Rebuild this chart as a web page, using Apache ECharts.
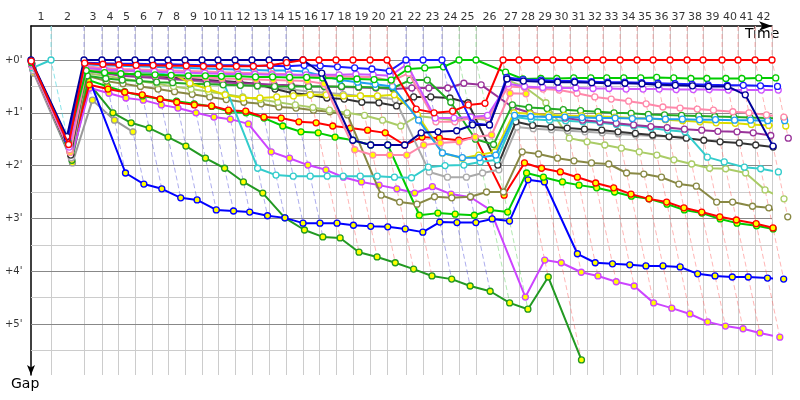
<!DOCTYPE html>
<html><head><meta charset="utf-8">
<script src="https://cdn.jsdelivr.net/npm/echarts@6/dist/echarts.min.js"></script>
<style>html,body{margin:0;padding:0;background:#fff}#c{width:800px;height:400px}</style>
</head><body><div id="c"></div>
<script>
// ---- data ----
const lapLabels = ['1','2','3','4','5','6','7','8','9','10','11','12','13','14','15','16','17','18','19','20','21','22','23','24','25','26','27','28','29','30','31','32','33','34','35','36','37','38','39','40','41','42'];
// leader's elapsed time (minutes) at the end of each lap (index 0 = start)
const lapTimes = [0,1.82,4.82,6.45,7.91,9.45,11.0,12.45,14.0,15.55,
  17.0,18.55,20.09,21.64,23.18,24.73,26.18,27.73,29.27,30.82,
  32.36,34.09,35.64,37.36,38.91,40.45,42.91,44.36,46.0,47.45,
  49.0,50.55,52.0,53.55,55.09,56.55,58.09,59.64,61.09,62.82,
  64.27,65.82,67.36];
const lapLeader = [null,'cyan',
  'navy','navy','navy','navy','navy','navy','navy','navy','navy','navy','navy','navy','navy',
  'red','red','red','red','red','red',
  'blue','blue','blue',
  'green','green',
  'red','red','red','red','red','red','red','red','red','red','red','red','red','red','red','red','red'];
const gapTicks = [0,1,2,3,4,5];
const gapTickLabels = ["+0'","+1'","+2'","+3'","+4'","+5'"];
const gapMinor = [0.5,1.5,2.5,3.5,4.5,5.5];

// gaps (minutes) per lap, index 0..42
const navy = [0,1.45,0,0,0,0,0,0,0,0,
  0,0,0,0,0,0,0.25,1.52,1.61,1.61,
  1.61,1.38,1.36,1.34,1.23,1.23,0.36,0.40,0.41,0.42,
  0.42,0.43,0.44,0.44,0.45,0.47,0.48,0.49,0.50,0.50,
  0.66,1.63,null];
const blue = [0.02,1.50,0.05,0.06,0.07,0.07,0.08,0.08,0.09,0.10,
  0.10,0.10,0.11,0.11,0.12,0.10,0.11,0.13,0.15,0.17,
  0.21,0,0,0,1.20,1.23,0.33,0.37,0.38,0.40,
  0.40,0.41,0.42,0.42,0.43,0.44,0.45,0.46,0.47,0.48,
  0.48,0.49,0.50];
const redW = [0.02,1.60,0.06,0.08,0.09,0.10,0.10,0.11,0.11,0.12,
  0.12,0.12,0.12,0.10,0.05,0,0,0,0,0,
  0,0.93,1.00,0.97,0.85,0.82,0,0,0,0,
  0,0,0,0,0,0,0,0,0,0,
  0,0,0];
const greenW = [0.05,1.55,0.20,0.24,0.26,0.27,0.28,0.29,0.30,0.30,
  0.31,0.31,0.32,0.32,0.33,0.33,0.34,0.35,0.36,0.37,
  0.38,0.17,0.15,0.13,0,0,0.23,0.36,0.35,0.35,
  0.34,0.34,0.34,0.34,0.34,0.33,0.34,0.35,0.35,0.35,
  0.35,0.34,0.34];
const violetW = [0.08,1.65,0.15,0.18,0.20,0.21,0.22,0.23,0.24,0.25,
  0.26,0.27,0.27,0.28,0.28,0.28,0.28,0.28,0.27,0.28,
  0.30,0.08,1.10,1.10,1.08,1.05,0.45,0.50,0.52,0.53,
  0.53,0.54,0.54,0.55,0.55,0.55,0.56,0.56,0.56,0.57,
  0.57,0.57,0.57];
const pinkW = [0.10,1.70,0.12,0.15,0.17,0.18,0.19,0.20,0.21,0.22,
  0.23,0.24,0.25,0.26,0.27,0.30,0.31,0.31,0.32,0.32,
  0.40,0.25,1.17,1.17,1.10,1.10,0.50,0.52,0.55,0.57,
  0.63,0.70,0.74,0.78,0.83,0.89,0.91,0.93,0.95,0.98,
  1.00,1.04,1.08];
const pinkY = [0.12,1.75,0.20,0.22,0.25,0.27,0.29,0.30,0.32,0.33,
  0.35,0.36,0.37,0.38,0.39,0.40,0.45,1.70,1.80,1.80,
  1.80,1.61,1.57,1.55,1.46,1.42,0.63,0.64,null,null,
  null,null,null,null,null,null,null,null,null,null,
  null,null,null];
const lightBlue = [0.03,1.50,0.08,0.10,0.11,0.12,0.13,0.14,0.15,0.16,
  0.17,0.18,0.19,0.20,0.20,0.22,0.30,0.38,0.42,0.46,
  0.50,1.14,1.76,1.85,1.85,1.80,1.05,1.07,1.08,1.08,
  1.09,1.10,1.10,1.11,1.11,1.12,1.12,1.13,1.13,1.14,
  1.14,1.15,1.15];
const yellow = [0.05,1.60,0.15,0.18,0.20,0.21,0.22,0.23,0.44,0.55,
  0.66,0.72,0.72,0.70,0.68,0.66,0.66,0.68,0.68,0.68,
  0.66,1.04,1.76,1.86,1.80,1.74,1.00,1.02,1.04,1.05,
  1.06,1.07,1.08,1.10,1.11,1.13,1.15,1.17,1.19,1.20,
  1.22,1.24,1.25];
const forestW = [0.05,1.60,0.30,0.35,0.38,0.40,0.42,0.43,0.45,0.46,
  0.47,0.48,0.49,0.50,0.50,0.50,0.50,0.50,0.51,0.52,
  0.53,0.38,0.38,0.80,1.50,1.60,0.85,0.90,0.92,0.94,
  0.96,0.98,1.00,1.01,1.03,1.04,1.05,1.06,1.07,1.08,
  1.09,1.10,1.11];
const purple = [0.10,1.70,0.20,0.25,0.30,0.32,0.34,0.36,0.38,0.40,
  0.42,0.44,0.45,0.47,0.48,0.50,0.50,0.51,0.52,0.53,
  0.55,0.53,0.53,0.53,0.44,0.47,0.90,1.00,1.05,1.10,
  1.14,1.17,1.20,1.23,1.26,1.28,1.31,1.33,1.35,1.36,
  1.38,1.43,1.48];
const cyan = [0.15,0,null,0.15,0.20,0.22,0.25,0.28,0.30,0.33,
  0.33,2.05,2.18,2.20,2.20,2.20,2.20,2.20,2.20,2.22,
  2.23,2.03,2.00,1.99,1.93,1.89,1.08,1.12,1.14,1.15,
  1.17,1.19,1.22,1.25,1.29,1.33,1.36,1.84,1.93,2.03,
  2.06,2.12,null];
const black = [0.12,1.80,0.20,0.22,0.25,0.28,0.30,0.33,0.36,0.38,
  0.40,0.42,0.45,0.55,0.63,0.66,0.72,0.74,0.80,0.81,
  0.87,0.70,0.70,0.72,0.81,1.99,1.17,1.24,1.27,1.29,
  1.31,1.33,1.36,1.39,1.42,1.45,1.48,1.52,1.55,1.57,
  1.61,1.65,null];
const gray = [0.20,1.85,0.22,0.25,0.28,0.30,0.33,0.36,0.39,0.42,
  0.45,0.48,0.50,0.53,0.56,0.60,0.62,0.65,0.68,0.70,
  0.75,2.12,2.22,2.22,2.14,2.08,1.27,1.30,1.32,1.34,
  1.36,1.38,1.40,1.42,1.44,1.45,1.46,null,null,null,
  null,null,null];
const lightGreen = [0.15,1.75,0.25,0.30,0.35,0.40,0.45,0.50,0.55,0.60,
  0.65,0.70,0.75,0.80,0.85,0.90,0.95,1.00,1.05,1.14,
  1.25,1.06,1.10,1.14,1.10,1.14,0.38,0.51,0.81,1.48,
  1.55,1.61,1.67,1.74,1.80,1.89,1.97,2.05,2.06,2.14,
  2.46,2.63,null];
const olive = [0.18,1.80,0.30,0.40,0.45,0.50,0.55,0.60,0.65,0.70,
  0.75,0.80,0.83,0.89,0.91,0.95,0.98,1.04,2.56,2.69,
  2.73,2.59,2.61,2.59,2.50,2.50,1.74,1.78,1.86,1.91,
  1.95,1.97,2.14,2.16,2.22,2.35,2.39,2.69,2.69,2.77,
  2.80,2.97,null];
const redY = [0.10,1.75,0.47,0.55,0.61,0.66,0.74,0.80,0.85,0.87,
  0.95,0.97,1.08,1.10,1.17,1.19,1.25,1.29,1.33,1.38,
  1.61,1.46,1.48,1.52,1.46,2.56,1.95,2.05,2.12,2.22,
  2.33,2.42,2.54,2.63,2.69,2.80,2.88,2.97,3.03,3.10,
  3.18,null,null];
const greenY = [0.10,1.80,0.38,0.50,0.60,0.68,0.74,0.78,0.83,0.88,
  0.97,1.00,1.10,1.25,1.36,1.38,1.46,1.52,1.61,1.61,
  2.94,2.90,2.92,2.94,2.84,2.88,2.14,2.22,2.31,2.37,
  2.42,2.50,2.58,2.63,2.73,2.84,2.90,3.01,3.09,3.14,
  3.20,null,null];
const blueY = [0.10,1.70,0.23,2.14,2.35,2.44,2.61,2.65,2.84,2.86,
  2.88,2.95,2.99,3.09,3.09,3.09,3.13,3.15,3.16,3.20,
  3.26,3.07,3.08,3.08,3.01,3.05,2.27,2.31,3.67,3.84,
  3.86,3.88,3.90,3.90,3.92,4.05,4.09,4.11,4.11,4.13,
  4.15,null,null];
const violetY = [0.20,1.85,0.53,0.63,0.72,0.76,0.85,0.91,1.00,1.08,
  1.12,1.21,1.74,1.86,1.99,2.08,2.22,2.31,2.37,2.44,
  2.52,2.40,2.54,2.60,2.84,4.49,3.79,3.84,4.02,4.09,
  4.20,4.28,4.60,4.70,4.81,4.96,5.04,5.09,5.17,5.25,
  null,null,null];
const forestY = [0.15,1.90,0.44,1.00,1.19,1.29,1.46,1.63,1.86,2.05,
  2.31,2.52,2.99,3.22,3.35,3.37,3.64,3.73,3.84,3.96,
  4.09,4.15,4.28,4.38,4.60,4.72,4.11,5.68,null,null,
  null,null,null,null,null,null,null,null,null,null,
  null,null,null];
const grayY = [0.25,1.95,0.76,1.14,1.36,null,null,null,null,null,
  null,null,null,null,null,null,null,null,null,null,
  null,null,null,null,null,null,null,null,null,null,
  null,null,null,null,null,null,null,null,null,null,
  null,null,null];

// ---- style ----
const WHITE = '#ffffff', YEL = '#ffff00';
const cars = [
  {gaps: grayY,     color:'#999999', fill:YEL},
  {gaps: forestY,   color:'#229922', fill:YEL},
  {gaps: violetY,   color:'#cc44ff', fill:YEL},
  {gaps: blueY,     color:'#0000ff', fill:YEL},
  {gaps: greenY,    color:'#00cc00', fill:YEL},
  {gaps: redY,      color:'#ff0000', fill:YEL},
  {gaps: olive,     color:'#888844', fill:WHITE},
  {gaps: lightGreen,color:'#aacc66', fill:WHITE},
  {gaps: gray,      color:'#aaaaaa', fill:WHITE},
  {gaps: black,     color:'#333333', fill:WHITE},
  {gaps: cyan,      color:'#33cccc', fill:WHITE},
  {gaps: purple,    color:'#993399', fill:WHITE},
  {gaps: forestW,   color:'#22aa22', fill:WHITE},
  {gaps: yellow,    color:'#dddd00', fill:WHITE},
  {gaps: lightBlue, color:'#1e9ff0', fill:WHITE},
  {gaps: pinkY,     color:'#ff88aa', fill:YEL},
  {gaps: pinkW,     color:'#ff88aa', fill:WHITE},
  {gaps: violetW,   color:'#cc55ff', fill:WHITE},
  {gaps: greenW,    color:'#00cc00', fill:WHITE},
  {gaps: blue,      color:'#1a1aff', fill:WHITE},
  {gaps: navy,      color:'#000099', fill:WHITE},
  {gaps: redW,      color:'#ff0000', fill:WHITE}
];
const dashColor = {navy:'rgba(90,90,220,0.5)', blue:'rgba(90,90,220,0.5)', red:'rgba(255,90,90,0.45)',
  green:'rgba(60,200,60,0.4)', cyan:'rgba(60,210,220,0.6)'};

const Y_MIN = -0.644, Y_MAX = 5.966, X_MIN = 0, X_MAX = 67.36;
const LAP_LABEL_Y = -0.81, GAP_LABEL_X = -0.73;

const series = [];
// grid lines
series.push({type:'lines', coordinateSystem:'cartesian2d', polyline:false, silent:true, clip:false, z:1,
  lineStyle:{color:'#cccccc', width:1, opacity:1},
  data: lapTimes.slice(1).map(t => ({coords:[[t, Y_MIN],[t, Y_MAX]]}))
    .concat(gapMinor.map(g => ({coords:[[X_MIN, g],[X_MAX, g]]})))});
series.push({type:'lines', coordinateSystem:'cartesian2d', silent:true, clip:false, z:1,
  lineStyle:{color:'#888888', width:1, opacity:1},
  data: gapTicks.map(g => ({coords:[[X_MIN, g],[X_MAX, g]]}))});
// dashed "same lap" lines
const dashData = [];
for (let n = 1; n < lapTimes.length; n++) {
  let gmax = 0;
  cars.forEach(c => { const g = c.gaps[n]; if (g !== null && g > gmax) gmax = g; });
  dashData.push({coords:[[lapTimes[n], Y_MIN],[lapTimes[n], 0],[lapTimes[n] + gmax, gmax]],
    lineStyle:{color: dashColor[lapLeader[n]]}});
}
series.push({type:'lines', coordinateSystem:'cartesian2d', polyline:true, silent:true, clip:false, z:2,
  lineStyle:{width:1, type:[5,3], opacity:1}, data: dashData});
// cars
cars.forEach((c, k) => {
  series.push({type:'line', z:5 + k, clip:false, silent:true, connectNulls:false,
    symbol:'circle', symbolSize:6, showSymbol:true,
    lineStyle:{color:c.color, width:2},
    itemStyle:{color:c.fill, borderColor:c.color, borderWidth:1.3},
    data: c.gaps.map((g, i) => g === null ? [lapTimes[i], null] : [lapTimes[i] + g, g])});
});
// lap labels (top)
series.push({type:'scatter', clip:false, silent:true, z:50, symbolSize:1,
  itemStyle:{color:'rgba(0,0,0,0)'},
  label:{show:true, position:'inside', formatter:p => p.value[2], color:'#000',
    fontFamily:'DejaVu Sans', fontSize:11},
  data: lapLabels.map((s, i) => [(lapTimes[i] + lapTimes[i+1]) / 2, LAP_LABEL_Y, s])});
// gap labels (left)
series.push({type:'scatter', clip:false, silent:true, z:50, symbolSize:1,
  itemStyle:{color:'rgba(0,0,0,0)'},
  label:{show:true, position:'left', distance:0, formatter:p => p.value[2], color:'#000',
    fontFamily:'DejaVu Sans', fontSize:10},
  data: gapTicks.map((g, i) => [GAP_LABEL_X, g, gapTickLabels[i]])});

const chart = echarts.init(document.getElementById('c'));
chart.setOption({
  animation:false,
  backgroundColor:'#ffffff',
  grid:{left:31, top:26, width:741, height:349},
  xAxis:{type:'value', min:X_MIN, max:X_MAX, position:'top',
    axisLine:{show:true, onZero:false, lineStyle:{color:'#000', width:1.5},
      symbol:['none','arrow'], symbolSize:[7,13]},
    axisTick:{show:false}, axisLabel:{show:false}, splitLine:{show:false}},
  yAxis:{type:'value', inverse:true, min:Y_MIN, max:Y_MAX,
    axisLine:{show:true, onZero:false, lineStyle:{color:'#000', width:1.5},
      symbol:['arrow','none'], symbolSize:[6,10]},
    axisTick:{show:false}, axisLabel:{show:false}, splitLine:{show:false}},
  graphic:[
    {type:'text', left:745, top:27, style:{text:'Time', fontFamily:'DejaVu Sans', fontSize:14, fill:'#000'}},
    {type:'text', left:11, top:377, style:{text:'Gap', fontFamily:'DejaVu Sans', fontSize:14, fill:'#000'}}
  ],
  series: series
});
</script></body></html>
